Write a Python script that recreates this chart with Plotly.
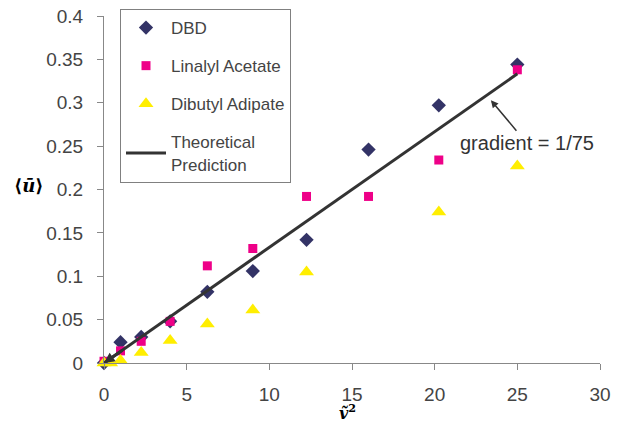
import plotly.graph_objects as go

x_vals = [0, 1, 2.25, 4, 6.25, 9, 12.25, 16, 20.25, 25]
dbd = [0.0, 0.024, 0.030, 0.048, 0.082, 0.106, 0.142, 0.246, 0.297, 0.344]
linalyl = [0.002, 0.014, 0.025, 0.048, 0.112, 0.132, 0.192, 0.192, 0.234, 0.338]
dib_x = [0, 0.4, 1, 2.25, 4, 6.25, 9, 12.25, 20.25, 25]
dibutyl = [0.0, 0.0, 0.003, 0.012, 0.026, 0.045, 0.061, 0.105, 0.174, 0.227]
theory_x = [0, 25]
gradient = 1 / 75
theory_y = [v * gradient for v in theory_x]

y_tickvals = [0, 0.05, 0.1, 0.15, 0.2, 0.25, 0.3, 0.35, 0.4]
y_ticktext = ["0", "0.05", "0.1", "0.15", "0.2", "0.25", "0.3", "0.35", "0.4"]
x_tickvals = [0, 5, 10, 15, 20, 25, 30]
x_ticktext = ["0", "5", "10", "15", "20", "25", "30"]

FONT = "Liberation Sans, Arial, sans-serif"
# page body has an 8px margin; plot area in the reference: x 104..600, y 16..363
OFF = 8
L, T, PW, PH = 104 - OFF, 16 - OFF, 496, 347
W, H = 626 - OFF, 435 - OFF


def px(xpix):
    return (xpix - 104) / PW


def py(ypix):
    return (363 - ypix) / PH


fig = go.Figure()
fig.add_trace(go.Scatter(x=x_vals, y=dbd, mode="markers", name="DBD", legendgroup="a",
                         marker=dict(symbol="diamond", size=11, color="#333366"), cliponaxis=False))
fig.add_trace(go.Scatter(x=x_vals, y=linalyl, mode="markers", name="Linalyl Acetate", legendgroup="b",
                         marker=dict(symbol="square", size=9, color="#ee0088"), cliponaxis=False))
fig.add_trace(go.Scatter(x=dib_x, y=dibutyl, mode="markers", name="Dibutyl Adipate", legendgroup="c",
                         marker=dict(symbol="triangle-up", size=13, color="#ffee00"), cliponaxis=False))
fig.add_trace(go.Scatter(x=theory_x, y=theory_y, mode="lines", name="Theoretical<br>Prediction", legendgroup="d",
                         line=dict(color="#333333", width=3), cliponaxis=False))

# arrowhead at the origin end of the theoretical line
fig.add_annotation(x=0, y=0, ax=1.2, ay=1.2 * gradient, axref="x", ayref="y",
                   text="", showarrow=True, arrowhead=2, arrowsize=0.7, arrowwidth=3, arrowcolor="#333333")

# gradient label with arrow to the line
fig.add_annotation(x=23.4, y=0.303, ax=36, ay=43,
                   text="gradient = 1/75", showarrow=True, arrowhead=2, arrowsize=1,
                   arrowwidth=1.5, arrowcolor="#333333",
                   font=dict(family=FONT, size=20, color="#333333"))

# axis titles (horizontal)
fig.add_annotation(xref="paper", yref="paper", x=px(29), y=py(185), xanchor="center", yanchor="middle",
                   text="<b>⟨<i>ū</i>⟩</b>", showarrow=False,
                   font=dict(family="DejaVu Serif", size=18, color="black"))
fig.add_annotation(xref="paper", yref="paper", x=px(347), y=py(412), xanchor="center", yanchor="middle",
                   text="<b><i>ṽ</i></b><sup><b>2</b></sup>", showarrow=False,
                   font=dict(family="DejaVu Serif", size=16, color="black"))

fig.update_layout(
    width=W, height=H,
    margin=dict(l=L, r=W - L - PW, t=T, b=H - T - PH, autoexpand=False),
    paper_bgcolor="white", plot_bgcolor="white",
    font=dict(family=FONT, size=19, color="#444444"),
    showlegend=True,
    legend=dict(x=px(120), y=py(9), xanchor="left", yanchor="top",
                bordercolor="#808080", borderwidth=1, bgcolor="white",
                font=dict(family=FONT, size=17, color="#444444"), tracegroupgap=13,
                traceorder="grouped", itemwidth=40),
    xaxis=dict(range=[0, 30], tickmode="array", tickvals=x_tickvals, ticktext=x_ticktext,
               showgrid=False, zeroline=False, automargin=False, ticklabeloverflow="allow",
               showline=True, linecolor="#888888", ticks="outside", ticklen=6, tickcolor="#888888",
               ticklabelstandoff=8, tickfont=dict(size=19, color="#444444")),
    yaxis=dict(range=[0, 0.4], tickmode="array", tickvals=y_tickvals, ticktext=y_ticktext,
               showgrid=False, zeroline=False, automargin=False, ticklabeloverflow="allow",
               showline=True, linecolor="#888888", ticks="outside", ticklen=6, tickcolor="#888888",
               ticklabelstandoff=10, tickfont=dict(size=19, color="#444444")),
)

fig.write_html("out.html")
